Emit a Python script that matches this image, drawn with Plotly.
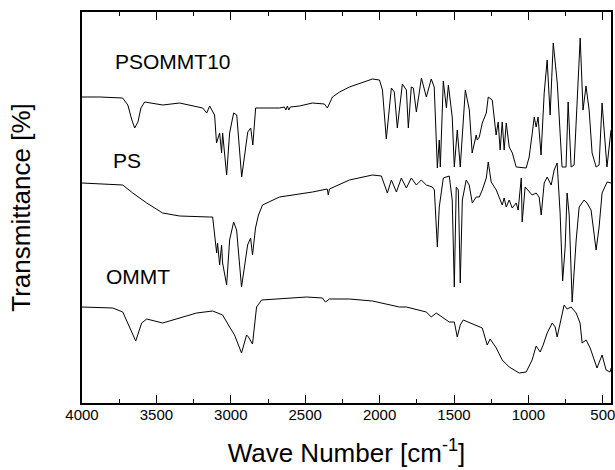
import plotly.graph_objects as go

# ---- PSOMMT10 (top trace) ----
psommt10_wn = [4000, 3880, 3727, 3692, 3665, 3646, 3624, 3604, 3579, 3457, 3344, 3189, 3162, 3142,
               3109, 3096, 3075, 3062, 3055, 3028, 3008, 2981, 2960, 2927, 2886, 2866, 2852, 2833,
               2806, 2673, 2640, 2630, 2620, 2610, 2600, 2539, 2451, 2371, 2351, 2317, 2269, 2203,
               2048, 2001, 1981, 1955, 1921, 1901, 1881, 1847, 1820, 1807, 1787, 1773, 1753, 1719,
               1686, 1653, 1633, 1612, 1599, 1592, 1572, 1551, 1538, 1512, 1498, 1478, 1458, 1424,
               1397, 1378, 1351, 1344, 1330, 1310, 1283, 1270, 1243, 1230, 1217, 1203, 1190, 1176,
               1163, 1149, 1129, 1108, 1082, 1015, 995, 974, 961, 948, 935, 915, 894, 874, 854, 833,
               806, 774, 747, 733, 713, 693, 672, 652, 633, 613, 592, 572, 545, 525, 505, 485, 472, 445]
psommt10_t = [306, 306, 305, 298, 283, 275, 281, 295, 301, 298, 300, 295, 290, 297,
              288, 260, 270, 250, 270, 228, 270, 290, 288, 226, 271, 275, 258, 295,
              295, 295, 296, 293, 297, 293, 296, 297, 300, 299, 295, 306, 311, 316,
              324, 323, 313, 264, 315, 311, 275, 319, 313, 275, 316, 315, 291, 325,
              306, 324, 316, 235, 263, 236, 322, 295, 318, 286, 236, 273, 236, 313,
              293, 250, 268, 263, 266, 280, 290, 306, 303, 283, 268, 281, 253, 281,
              253, 280, 256, 250, 236, 235, 246, 270, 286, 276, 286, 248, 310, 343, 288, 360,
              320, 236, 236, 301, 236, 238, 303, 365, 293, 317, 293, 250, 236, 238, 300, 263, 236, 273]

# ---- PS (middle trace) ----
ps_wn = [4000, 3726, 3659, 3565, 3458, 3344, 3142, 3122, 3095, 3089, 3075, 3062, 3055, 3028, 3008,
         2981, 2961, 2928, 2887, 2867, 2854, 2834, 2814, 2787, 2673, 2451, 2352, 2345, 2337, 2203,
         2048, 1988, 1948, 1921, 1887, 1854, 1820, 1787, 1753, 1720, 1686, 1646, 1632, 1612, 1599,
         1572, 1532, 1512, 1498, 1485, 1471, 1458, 1444, 1418, 1398, 1377, 1351, 1330, 1310, 1283,
         1270, 1250, 1216, 1196, 1176, 1163, 1149, 1129, 1109, 1082, 1069, 1048, 1042, 1022, 1002,
         975, 948, 928, 914, 894, 874, 847, 827, 807, 787, 770, 753, 740, 726, 706, 679, 659, 626,
         606, 579, 545, 525, 505, 471, 444]
ps_t = [220, 218, 210, 200, 190, 187, 186, 186, 150, 160, 138, 158, 140, 118, 163,
        181, 173, 116, 158, 165, 148, 175, 188, 198, 206, 211, 214, 208, 214, 223,
        228, 227, 210, 223, 211, 225, 215, 225, 218, 223, 218, 216, 213, 156, 196,
        225, 227, 203, 116, 216, 213, 120, 203, 223, 218, 200, 206, 206, 213, 225,
        241, 221, 213, 206, 198, 205, 196, 203, 195, 200, 193, 225, 181, 216, 213,
        208, 210, 206, 188, 220, 226, 218, 233, 240, 190, 122, 156, 210, 188, 101, 163, 196, 203,
        200, 193, 153, 176, 210, 221, 220]

# ---- OMMT (bottom trace) ----
ommt_wn = [4000, 3793, 3726, 3679, 3639, 3599, 3565, 3458, 3344, 3230, 3122, 3055, 3008, 2975, 2954,
           2928, 2894, 2881, 2854, 2827, 2793, 2673, 2491, 2384, 2364, 2337, 2203, 2048, 1867, 1820,
           1686, 1653, 1619, 1532, 1498, 1478, 1458, 1438, 1377, 1310, 1277, 1257, 1216, 1176, 1129,
           1062, 1015, 975, 948, 921, 901, 874, 840, 820, 807, 780, 760, 740, 713, 679, 653, 639,
           612, 585, 539, 505, 478, 451, 444]
ommt_t = [96, 95, 91, 76, 62, 80, 84, 80, 85, 90, 92, 88, 76, 68, 60,
          50, 68, 66, 59, 96, 103, 104, 106, 105, 101, 104, 104, 102, 96, 96,
          91, 86, 90, 81, 81, 66, 78, 83, 79, 75, 58, 64, 55, 43, 36,
          30, 31, 43, 57, 51, 58, 70, 80, 76, 66, 86, 98, 94, 96, 90, 80, 60,
          63, 55, 35, 48, 33, 31, 35]

# ---- trace labels ----
label_text = ["PSOMMT10", "PS", "OMMT"]
label_wn = [3391, 3699, 3625]
label_t = [342, 243, 127]

x_ticks = [4000, 3500, 3000, 2500, 2000, 1500, 1000, 500]

FONT = "Liberation Sans, Arial, sans-serif"

fig = go.Figure()
for wn, t in [(psommt10_wn, psommt10_t), (ps_wn, ps_t), (ommt_wn, ommt_t)]:
    fig.add_trace(go.Scatter(x=wn, y=t, mode="lines",
                             line=dict(color="black", width=1), showlegend=False,
                             hoverinfo="skip"))

for txt, x, y in zip(label_text, label_wn, label_t):
    fig.add_annotation(x=x, y=y, text=txt, showarrow=False,
                       font=dict(family=FONT, size=21, color="black"))

fig.update_layout(
    width=615, height=470,
    margin=dict(l=82, r=4, t=12, b=67),
    paper_bgcolor="white", plot_bgcolor="white",
    font=dict(family=FONT, color="black"),
    xaxis=dict(range=[4000, 445], tickvals=x_ticks, ticktext=[str(v) for v in x_ticks],
               automargin=False, ticklabeloverflow="allow",
               ticks="inside", ticklen=8, tickwidth=1.2, tickcolor="black",
               ticklabelstandoff=-3,
               minor=dict(dtick=250, ticks="inside", ticklen=4, tickwidth=1.2, tickcolor="black"),
               showline=True, linecolor="black", linewidth=1.5, mirror="ticks",
               showgrid=False, zeroline=False,
               tickfont=dict(family=FONT, size=15, color="black"),
               title=dict(text="Wave Number [cm<sup>-1</sup>]",
                          font=dict(family=FONT, size=26, color="black"), standoff=22)),
    yaxis=dict(range=[0, 391], showticklabels=False, ticks="",
               automargin=False,
               showline=True, linecolor="black", linewidth=1.5, mirror=True,
               showgrid=False, zeroline=False,
               title=dict(text="Transmittance [%]",
                          font=dict(family=FONT, size=26, color="black"), standoff=42)),
)

fig.write_html("out.html", config={"displayModeBar": False},
               post_script="document.body.style.margin='0';document.body.style.padding='0';")
